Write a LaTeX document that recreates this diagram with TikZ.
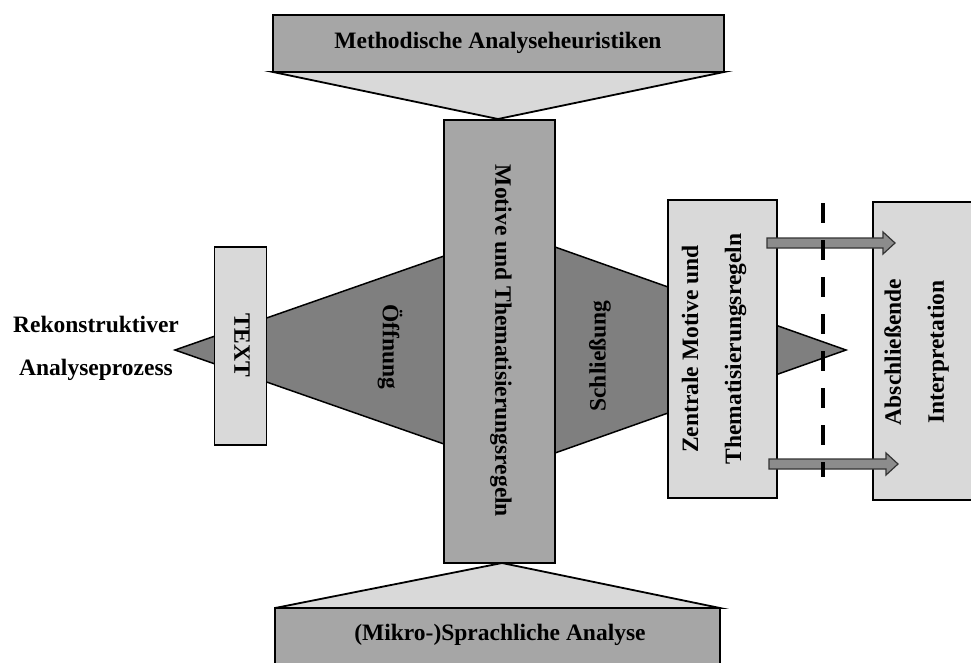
\documentclass[tikz,border=0pt]{standalone}
\usepackage{fontspec}
\setmainfont{Liberation Serif}
\usetikzlibrary{calc}
\definecolor{midgray}{HTML}{A6A6A6}
\definecolor{lightgray}{HTML}{D9D9D9}
\definecolor{darkgray}{HTML}{7F7F7F}
\definecolor{arrowgray}{HTML}{8C8C8C}
\begin{document}
\begin{tikzpicture}[x=1pt,y=-1pt,
  txt/.style={font=\bfseries\fontsize{23.5}{43}\selectfont, inner sep=0pt, align=center},
  boxmid/.style={draw=black, line width=1.8pt, fill=midgray, inner sep=0pt},
  boxlight/.style={draw=black, line width=1.8pt, fill=lightgray, inner sep=0pt},
  wedge/.style={draw=black, line width=1.5pt, fill=darkgray, line join=miter},
  funnel/.style={draw=black, line width=1.8pt, fill=lightgray},
  fatarrow/.style={draw=black!80, line width=1.2pt, fill=arrowgray, line join=miter},
  divider/.style={draw=black, line width=4.5pt, dash pattern=on 20pt off 17pt}]
\useasboundingbox (0,0) rectangle (971,662);

% wedges behind the boxes
\fill[wedge] (175,350) -- (444,256) -- (444,444) -- cycle;
\fill[wedge] (555,247) -- (846,350) -- (555,453) -- cycle;

% funnels
\filldraw[funnel] (273,72) -- (724,72) -- (498,119) -- cycle;
\filldraw[funnel] (275,608) -- (720,608) -- (502,563) -- cycle;

% top and bottom boxes
\node[boxmid, minimum width=451pt, minimum height=57pt] (top) at (498.5,43.5) {};
\node[txt] (toptxt) at (498,43) {Methodische Analyseheuristiken};
\node[boxmid, minimum width=445pt, minimum height=62pt] (bot) at (497.5,639) {};
\node[txt] (bottxt) at (500,635) {(Mikro-)Sprachliche Analyse};

% central box
\node[boxmid, rotate=-90, minimum width=443pt, minimum height=111pt] (mid) at (499.5,341.5) {};
\node[txt, rotate=-90] (midtxt) at (501,341) {Motive und Thematisierungsregeln};

% TEXT box
\node[boxlight, rotate=-90, minimum width=198pt, minimum height=52pt] (textbox) at (240.5,346) {};
\node[txt, rotate=-90] (texttxt) at (242,345) {TEXT};

% wedge labels
\node[txt, rotate=-90] (oeff) at (390,347) {Öffnung};
\node[txt, rotate=90] (schl) at (600,356) {Schließung};

% left label
\node[txt] (rek) at (96,348) {Rekonstruktiver\\Analyseprozess};

% Zentrale box
\node[boxlight, minimum width=109pt, minimum height=298pt] (zen) at (722.5,349) {};
\node[txt, rotate=90] (zentxt) at (714,349) {Zentrale Motive und\\Thematisierungsregeln};

% Abschliessende box
\node[boxlight, minimum width=110pt, minimum height=298pt] (abs) at (928,351) {};
\node[txt, rotate=90] (abstxt) at (916.5,352) {Abschließende\\Interpretation};

% arrows from Zentrale to Abschliessende
\coordinate (a1s) at (767,243);
\coordinate (a1e) at (895,243);
\coordinate (a2s) at (769,464);
\coordinate (a2e) at (898,464);
\filldraw[fatarrow] ($(a1s)+(0,-5)$) -- ($(a1e)+(-12,-5)$) -- ($(a1e)+(-12,-11)$) -- (a1e)
  -- ($(a1e)+(-12,11)$) -- ($(a1e)+(-12,5)$) -- ($(a1s)+(0,5)$) -- cycle;
\filldraw[fatarrow] ($(a2s)+(0,-5)$) -- ($(a2e)+(-12,-5)$) -- ($(a2e)+(-12,-11)$) -- (a2e)
  -- ($(a2e)+(-12,11)$) -- ($(a2e)+(-12,5)$) -- ($(a2s)+(0,5)$) -- cycle;

% dashed divider
\coordinate (d1) at (823,203);
\coordinate (d2) at (823,477);
\draw[divider] (d1) -- (d2);
\end{tikzpicture}
\end{document}
